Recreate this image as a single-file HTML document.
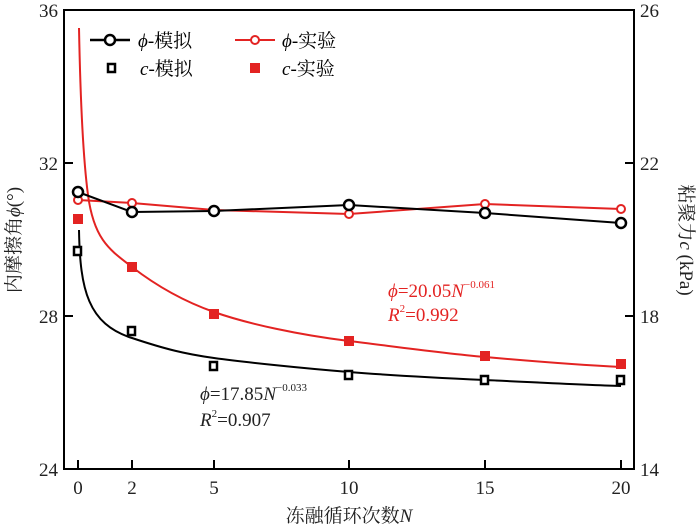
<!DOCTYPE html><html><head><meta charset="utf-8"><style>body{margin:0;background:#fff}svg{display:block}text{font-family:"Liberation Serif","Noto Serif CJK SC",serif;}</style></head><body>
<svg width="700" height="526" viewBox="0 0 700 526" xmlns="http://www.w3.org/2000/svg">
<g fill="none" stroke="#000" stroke-width="2">
<rect x="64" y="10" width="570" height="459"/>
<path d="M64 163h9M64 316h9M634 163h-9M634 316h-9M78 469v-9M132 469v-9M214 469v-9M349 469v-9M485 469v-9M621 469v-9"/>
</g>
<g font-size="19" fill="#222">
<text x="58" y="17" text-anchor="end">36</text><text x="58" y="170" text-anchor="end">32</text><text x="58" y="323" text-anchor="end">28</text><text x="58" y="476" text-anchor="end">24</text>
<text x="640" y="17">26</text><text x="640" y="170">22</text><text x="640" y="323">18</text><text x="640" y="476">14</text>
<g text-anchor="middle"><text x="78" y="494">0</text><text x="132" y="494">2</text><text x="214" y="494">5</text><text x="349" y="494">10</text><text x="485" y="494">15</text><text x="621" y="494">20</text></g>
<text x="349" y="522" text-anchor="middle">冻融循环次数<tspan font-style="italic">N</tspan></text>
<text transform="translate(20 240) rotate(-90)" text-anchor="middle">内摩擦角<tspan font-style="italic">ϕ</tspan>(°)</text>
<text transform="translate(680 240) rotate(90)" text-anchor="middle">粘聚力<tspan font-style="italic">c</tspan> (kPa)</text>
</g>
<path d="M79 28C80 80 82 150 88 195S110 250 132 267S180 300 214 312S300 335 349 341S440 353 485 357S580 365 621 367" fill="none" stroke="#e32322" stroke-width="2"/>
<path d="M79 230C80 290 88 324 132 338C165 349 185 354 214 358S300 368 349 372S440 378 485 380S580 385 621 386" fill="none" stroke="#000" stroke-width="2"/>
<polyline points="78,200 132,203 214,210 349,214 485,204 621,209" fill="none" stroke="#e32322" stroke-width="2"/>
<polyline points="78,192 132,212 214,211 349,205 485,213 621,223" fill="none" stroke="#000" stroke-width="2"/>
<g fill="#fff" stroke="#e32322" stroke-width="2"><circle cx="78" cy="200" r="4"/><circle cx="132" cy="203" r="4"/><circle cx="214" cy="210" r="4"/><circle cx="349" cy="214" r="4"/><circle cx="485" cy="204" r="4"/><circle cx="621" cy="209" r="4"/></g>
<g fill="#fff" stroke="#000" stroke-width="2.5"><circle cx="78" cy="192" r="5"/><circle cx="132" cy="212" r="5"/><circle cx="214" cy="211" r="5"/><circle cx="349" cy="205" r="5"/><circle cx="485" cy="213" r="5"/><circle cx="621" cy="223" r="5"/></g>
<g fill="#fff" stroke="#000" stroke-width="2.5"><rect x="74" y="247" width="7" height="8"/><rect x="128" y="327" width="7" height="8"/><rect x="210" y="362" width="7" height="8"/><rect x="345" y="371" width="7" height="8"/><rect x="481" y="376" width="7" height="8"/><rect x="617" y="376" width="7" height="8"/></g>
<g fill="#e32322"><rect x="73" y="214" width="10" height="10"/><rect x="127" y="262" width="10" height="10"/><rect x="209" y="309" width="10" height="10"/><rect x="344" y="336" width="10" height="10"/><rect x="480" y="351" width="10" height="10"/><rect x="616" y="359" width="10" height="10"/></g>
<g font-size="19">
<path d="M90 40h40" stroke="#000" stroke-width="2.5"/><circle cx="110" cy="40" r="5" fill="#fff" stroke="#000" stroke-width="2.5"/>
<text x="138" y="47"><tspan font-style="italic">ϕ</tspan>-模拟</text>
<path d="M235 40h40" stroke="#e32322" stroke-width="2"/><circle cx="255" cy="40" r="4" fill="#fff" stroke="#e32322" stroke-width="2"/>
<text x="282" y="47"><tspan font-style="italic">ϕ</tspan>-实验</text>
<rect x="108" y="64" width="7" height="8" fill="#fff" stroke="#000" stroke-width="2.5"/>
<text x="140" y="75"><tspan font-style="italic">c</tspan>-模拟</text>
<rect x="250" y="63" width="10" height="10" fill="#e32322"/>
<text x="282" y="75"><tspan font-style="italic">c</tspan>-实验</text>
<g fill="#e32322" font-style="italic"><text x="388" y="297">ϕ<tspan font-style="normal">=20.05</tspan>N<tspan font-size="11" dy="-9" font-style="normal">−0.061</tspan></text>
<text x="388" y="321">R<tspan font-size="11" dy="-9" font-style="normal">2</tspan><tspan dy="9" font-style="normal">=0.992</tspan></text></g>
<g fill="#222" font-style="italic"><text x="200" y="400">ϕ<tspan font-style="normal">=17.85</tspan>N<tspan font-size="11" dy="-9" font-style="normal">−0.033</tspan></text>
<text x="200" y="426">R<tspan font-size="11" dy="-9" font-style="normal">2</tspan><tspan dy="9" font-style="normal">=0.907</tspan></text></g>
</g>
</svg></body></html>
